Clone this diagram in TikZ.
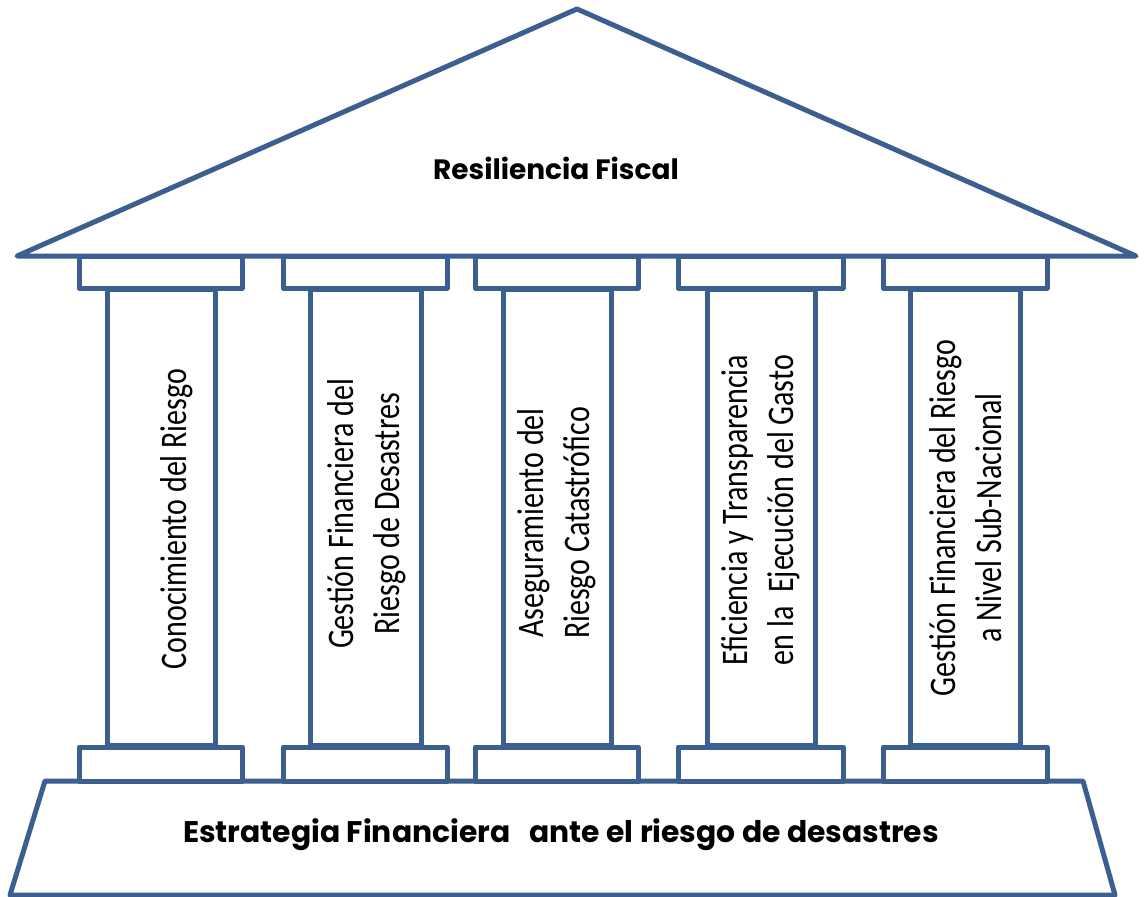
\documentclass[tikz,border=0pt]{standalone}
\usepackage{fontspec}
\setmainfont{Poppins}
\newfontfamily\colfont[FakeStretch=0.8]{Carlito}
\usepackage{tikz}
\usetikzlibrary{positioning}
\definecolor{pillarblue}{RGB}{59,96,143}

\begin{document}
\begin{tikzpicture}[x=1pt, y=-1pt,
    part/.style={draw=pillarblue, line width=5pt, line join=round, fill=white},
    heading/.style={font=\fontsize{28}{32}\selectfont\bfseries},
    coltext/.style={rotate=90, align=center, font=\colfont\fontsize{37.5}{46}\selectfont}]
  \useasboundingbox[fill=white] (0,0) rectangle (1144,897);

  % Roof
  \draw[part] (17,256) -- (577,9) -- (1136,256) -- cycle;
  \node[heading] (roof) at (556,168) {Resiliencia Fiscal};

  % Base
  \draw[part] (45,781) -- (1083,781) -- (1115,895) -- (10,895) -- cycle;
  \node[heading, font=\fontsize{29.8}{34}\selectfont\bfseries] (base) at (561,835) {Estrategia Financiera\ \ \ ante el riesgo de desastres};

  % Capitals, top and bottom
  \foreach \l/\r in {79/242, 283/447, 475/638, 678/843, 883/1047} {
    \draw[part] (\l,256) rectangle (\r,288);
    \draw[part] (\l,747) rectangle (\r,781);
  }

  % Columns
  \foreach \l/\r in {107/215, 310/421, 503/611, 707/815, 910/1020}
    \draw[part] (\l,289) rectangle (\r,745);

  \node[coltext] (col1) at (177,519) {Conocimiento del Riesgo};
  \node[coltext] (col2) at (367,514) {Gestión Financiera del\\Riesgo de Desastres};
  \node[coltext] (col3) at (557,523) {Aseguramiento del\\Riesgo Catastrófico};
  \node[coltext] (col4) at (761,510) {Eficiencia y Transparencia\\en la\ \ Ejecución del Gasto};
  \node[coltext] (col5) at (966,518) {Gestión Financiera del Riesgo\\a Nivel Sub-Nacional};
\end{tikzpicture}
\end{document}
